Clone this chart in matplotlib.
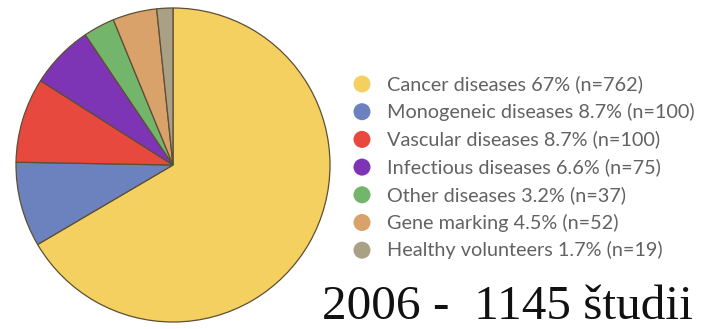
import matplotlib.pyplot as plt

# gene therapy trials by indication
labels = ['Cancer diseases', 'Monogeneic diseases', 'Vascular diseases',
          'Infectious diseases', 'Other diseases', 'Gene marking',
          'Healthy volunteers']
counts = [762, 100, 100, 75, 37, 52, 19]
shares = ['67%', '8.7%', '8.7%', '6.6%', '3.2%', '4.5%', '1.7%']
colors = ['#f3d060', '#6b82bf', '#e8493f', '#7d35b5', '#74b56c',
          '#d9a26a', '#a9a085']
title = '2006 -  1145 študii'

W, H = 708, 329
fig = plt.figure(figsize=(W / 100, H / 100), dpi=100)

# pie, placed in pixel terms
cx, cy, r = 173, 165, 157
pad = 1.02
ax = fig.add_axes([(cx - r * pad) / W, (H - cy - r * pad) / H,
                   2 * r * pad / W, 2 * r * pad / H])
ax.pie(counts, colors=colors, startangle=90, counterclock=False,
       wedgeprops=dict(edgecolor='#5e4e34', linewidth=0.9))
ax.set_xlim(-pad, pad)
ax.set_ylim(-pad, pad)
ax.set_aspect('equal')
ax.axis('off')

# legend drawn on an overlay in pixel coords
ov = fig.add_axes([0, 0, 1, 1])
ov.set_xlim(0, W)
ov.set_ylim(H, 0)
ov.axis('off')
y0, step = 84, 27.7
for i, (lab, n, s, c) in enumerate(zip(labels, counts, shares, colors)):
    y = y0 + i * step
    ov.scatter(362, y, s=150, color=c, edgecolors='none')
    ov.text(387, y, f'{lab} {s} (n={n})', fontsize=14.3, family='Lato',
            color='#626262', va='center', ha='left')

ov.text(322, 329, title, fontsize=35.5, family='Liberation Serif',
        color='#111111', ha='left', va='bottom')

fig.savefig('out.png', dpi=100, facecolor='white')
